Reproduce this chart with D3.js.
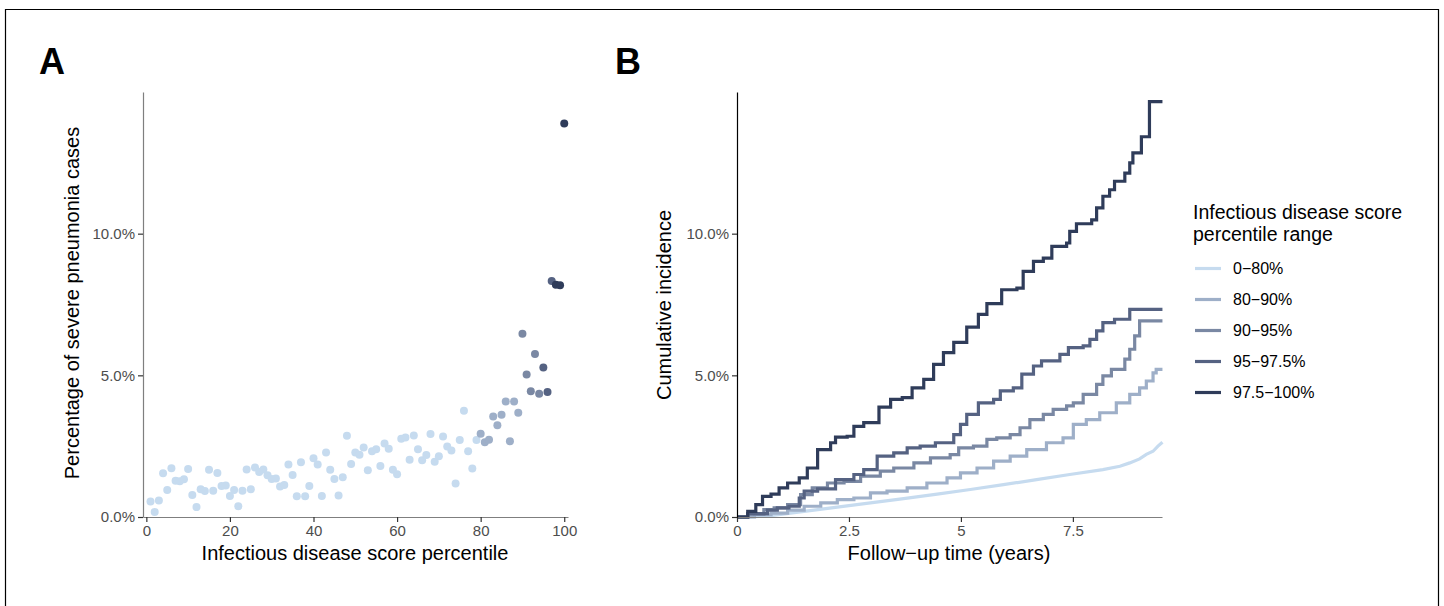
<!DOCTYPE html>
<html>
<head>
<meta charset="utf-8">
<script src="https://cdn.jsdelivr.net/npm/d3@7"></script>
<style>
  body { margin: 0; background: #fff; }
  svg { font-family: "Liberation Sans", Arial, sans-serif; }
</style>
</head>
<body>
<script>
// percentile groups and their colours
var groups = ["0−80%", "80−90%", "90−95%", "95−97.5%", "97.5−100%"];
var groupColors = ["#c6dbef", "#9eafc8", "#7a88a3", "#556282", "#2f3c5a"];

// panel A: percentile 1..100 and % severe pneumonia cases
var percentiles = d3.range(1, 101);
var severePct = [
  0.55, 0.18, 0.58, 1.54, 0.95, 1.72, 1.28, 1.26, 1.33, 1.69,
  0.78, 0.35, 0.98, 0.92, 1.67, 0.93, 1.55, 1.09, 1.11, 0.74,
  0.95, 0.38, 0.93, 1.68, 0.98, 1.75, 1.59, 1.68, 1.47, 1.34,
  1.36, 1.08, 1.13, 1.85, 1.48, 0.73, 1.93, 0.73, 1.09, 2.07,
  1.85, 0.74, 2.28, 1.67, 1.34, 0.76, 1.40, 2.87, 1.87, 2.28,
  2.20, 2.45, 1.65, 2.32, 2.39, 1.80, 2.59, 2.41, 1.67, 1.51,
  2.76, 2.81, 2.02, 2.88, 2.39, 2.00, 2.19, 2.93, 1.95, 2.14,
  2.84, 2.49, 2.35, 1.18, 2.72, 3.75, 2.32, 1.71, 2.72, 2.94,
  2.64, 2.73, 3.55, 3.24, 3.61, 4.08, 2.67, 4.08, 3.68, 6.47,
  5.03, 4.44, 5.75, 4.35, 5.28, 4.41, 8.33, 8.20, 8.18, 13.89
];
// group index of each point
var pointGroup = percentiles.map(function(p) {
  if (p < 80) return 0;
  if (p < 90) return 1;
  if (p < 95) return 2;
  if (p < 98) return 3;
  return 4;
});

// panel B: cumulative incidence (%) against follow-up time (years)
var time0 = [0, 0.3, 0.76, 1.5, 2.24, 2.98, 3.72, 4.47, 5.21, 5.95, 6.69, 7.43, 8.17, 8.55, 8.77, 8.99, 9.14, 9.29, 9.4, 9.5];
var inc0  = [0, 0, 0.05, 0.2, 0.35, 0.5, 0.65, 0.81, 0.97, 1.14, 1.32, 1.5, 1.67, 1.79, 1.91, 2.05, 2.21, 2.32, 2.5, 2.64];

var time1 = [0, 0.39, 0.76, 1.13, 1.5, 1.87, 2.24, 2.61, 2.98, 3.35, 3.8, 4.24, 4.69, 4.99, 5.36, 5.73, 6.1, 6.47, 6.91, 7.28, 7.51, 7.8, 8.1, 8.47, 8.77, 8.99, 9.14, 9.29, 9.36, 9.5];
var inc1  = [0, 0.08, 0.14, 0.24, 0.38, 0.5, 0.61, 0.67, 0.85, 0.91, 1.03, 1.2, 1.38, 1.56, 1.73, 1.97, 2.15, 2.38, 2.62, 2.79, 3.27, 3.44, 3.68, 4.03, 4.33, 4.56, 4.8, 5.09, 5.21, 5.21];

var time2 = [0, 0.24, 0.6, 0.83, 1.13, 1.42, 1.68, 2.02, 2.39, 2.76, 3.2, 3.5, 3.95, 4.32, 4.76, 4.95, 5.28, 5.58, 5.8, 6.1, 6.32, 6.54, 6.84, 7.06, 7.36, 7.51, 7.73, 8.03, 8.17, 8.36, 8.66, 8.77, 8.88, 8.99, 9.5];
var inc2  = [0, 0.1, 0.26, 0.32, 0.44, 0.79, 1.03, 1.2, 1.26, 1.44, 1.62, 1.73, 1.91, 2.09, 2.2, 2.44, 2.5, 2.74, 2.79, 2.91, 3.15, 3.44, 3.62, 3.8, 3.92, 4.03, 4.33, 4.68, 4.98, 5.21, 5.57, 5.92, 6.39, 6.92, 6.92];

var time3 = [0, 0.24, 0.68, 0.9, 1.16, 1.39, 1.5, 1.8, 2.2, 2.61, 2.83, 3.13, 3.5, 3.8, 4.09, 4.43, 4.84, 4.99, 5.13, 5.39, 5.73, 5.88, 6.17, 6.36, 6.62, 6.8, 7.21, 7.4, 7.73, 7.88, 8.03, 8.17, 8.43, 8.77, 9.5];
var inc3  = [0, 0.12, 0.24, 0.32, 0.38, 0.67, 0.91, 0.99, 1.32, 1.5, 1.67, 2.15, 2.26, 2.44, 2.5, 2.62, 2.91, 3.27, 3.62, 4.03, 4.15, 4.45, 4.56, 5.04, 5.33, 5.51, 5.74, 5.98, 6.04, 6.27, 6.57, 6.86, 6.98, 7.33, 7.33];

var time4 = [0, 0.24, 0.42, 0.57, 0.76, 0.94, 1.13, 1.39, 1.57, 1.8, 2.09, 2.2, 2.46, 2.61, 2.83, 3.17, 3.43, 3.69, 3.91, 4.17, 4.39, 4.61, 4.84, 5.13, 5.39, 5.58, 5.91, 6.25, 6.39, 6.62, 6.84, 7.03, 7.36, 7.43, 7.58, 7.92, 8.03, 8.17, 8.32, 8.43, 8.66, 8.77, 8.84, 9.03, 9.21, 9.5];
var inc4  = [0, 0.2, 0.44, 0.73, 0.81, 1.03, 1.2, 1.38, 1.73, 2.38, 2.62, 2.82, 2.85, 3.2, 3.33, 3.88, 4.15, 4.21, 4.56, 4.86, 5.39, 5.8, 6.16, 6.7, 7.15, 7.53, 8.02, 8.08, 8.67, 9.02, 9.14, 9.55, 9.67, 10.08, 10.35, 10.49, 10.91, 11.32, 11.55, 11.85, 12.14, 12.5, 12.85, 13.42, 14.66, 14.66];

var times = [time0, time1, time2, time3, time4];
var incs = [inc0, inc1, inc2, inc3, inc4];

var ticksA = [0, 20, 40, 60, 80, 100];
var ticksB = [0, 2.5, 5, 7.5];
var ticksY = [0, 5, 10];

var svg = d3.select("body").append("svg")
    .attr("width", 1444)
    .attr("height", 606);

// frame round the figure
svg.append("path")
    .attr("d", "M5.5,606 V9.5 H1438.5 V606")
    .attr("fill", "none")
    .attr("stroke", "#000")
    .attr("stroke-width", 1.2);

// panel letters
svg.append("text").attr("x", 39).attr("y", 74).text("A")
    .attr("font-size", 36).attr("font-weight", "bold");
svg.append("text").attr("x", 615).attr("y", 74).text("B")
    .attr("font-size", 36).attr("font-weight", "bold");

function pctFmt(d) { return d.toFixed(1) + "%"; }

function styleAxis(g, lineColor) {
  g.select(".domain").attr("stroke", lineColor).attr("stroke-width", 1.2);
  g.selectAll(".tick line").attr("stroke", "#333").attr("stroke-width", 1.2);
  g.selectAll(".tick text").attr("fill", "#4d4d4d").attr("font-size", 15)
      .attr("font-family", "Liberation Sans, Arial, sans-serif");
}

// ---------- panel A ----------
var xA = d3.scaleLinear().domain([-0.8, 100.9]).range([143, 568]);
var yA = d3.scaleLinear().domain([0, 15]).range([517, 92]);

var gxA = svg.append("g").attr("transform", "translate(0,517)")
    .call(d3.axisBottom(xA).tickValues(ticksA).tickSize(5).tickSizeOuter(0).tickPadding(3));
styleAxis(gxA, "#7f7f7f");
var gyA = svg.append("g").attr("transform", "translate(143,0)")
    .call(d3.axisLeft(yA).tickValues(ticksY).tickFormat(pctFmt).tickSize(5).tickSizeOuter(0).tickPadding(3));
styleAxis(gyA, "#7f7f7f");

svg.append("g").selectAll("circle")
    .data(percentiles)
    .enter()
    .append("circle")
    .attr("cx", d => xA(d))
    .attr("cy", (d, i) => yA(severePct[i]))
    .attr("r", 4)
    .attr("fill", (d, i) => groupColors[pointGroup[i]]);

svg.append("text").attr("x", 355).attr("y", 560).attr("text-anchor", "middle")
    .attr("font-size", 20).text("Infectious disease score percentile");
svg.append("text").attr("transform", "translate(79,303) rotate(-90)")
    .attr("text-anchor", "middle").attr("font-size", 20)
    .text("Percentage of severe pneumonia cases");

// ---------- panel B ----------
var xB = d3.scaleLinear().domain([0, 9.49]).range([737, 1162]);
var yB = d3.scaleLinear().domain([0, 15]).range([517, 92]);

var lineStep = d3.line()
    .x(d => xB(d[0]))
    .y(d => yB(d[1]))
    .curve(d3.curveStepAfter);
var lineSmooth = d3.line()
    .x(d => xB(d[0]))
    .y(d => yB(d[1]));

svg.append("g").selectAll("path")
    .data(groups)
    .enter()
    .append("path")
    .attr("d", function(g, i) {
      var pts = times[i].map((t, j) => [t, incs[i][j]]);
      return i === 0 ? lineSmooth(pts) : lineStep(pts);
    })
    .attr("fill", "none")
    .attr("stroke", (g, i) => groupColors[i])
    .attr("stroke-width", 3.2);

var gxB = svg.append("g").attr("transform", "translate(0,517)")
    .call(d3.axisBottom(xB).tickValues(ticksB).tickFormat(d3.format("")).tickSize(5).tickSizeOuter(0).tickPadding(3));
styleAxis(gxB, "#7f7f7f");
var gyB = svg.append("g").attr("transform", "translate(737,0)")
    .call(d3.axisLeft(yB).tickValues(ticksY).tickFormat(pctFmt).tickSize(5).tickSizeOuter(0).tickPadding(3));
styleAxis(gyB, "#000");

svg.append("text").attr("x", 949).attr("y", 560).attr("text-anchor", "middle")
    .attr("font-size", 20).text("Follow−up time (years)");
svg.append("text").attr("transform", "translate(671,305) rotate(-90)")
    .attr("text-anchor", "middle").attr("font-size", 20)
    .text("Cumulative incidence");

// ---------- legend ----------
var legend = svg.append("g").attr("transform", "translate(1193,0)");
legend.append("text").attr("x", 0).attr("y", 219).attr("font-size", 19.5)
    .text("Infectious disease score");
legend.append("text").attr("x", 0).attr("y", 241).attr("font-size", 19.5)
    .text("percentile range");

var item = legend.selectAll(".item")
    .data(groups)
    .enter()
    .append("g")
    .attr("transform", (d, i) => "translate(0," + (268.5 + i * 31) + ")");
item.append("line")
    .attr("x1", 2).attr("x2", 28)
    .attr("stroke", (d, i) => groupColors[i])
    .attr("stroke-width", 3.2);
item.append("text")
    .attr("x", 40).attr("y", 5.5)
    .attr("font-size", 16)
    .text(d => d);
</script>
</body>
</html>
